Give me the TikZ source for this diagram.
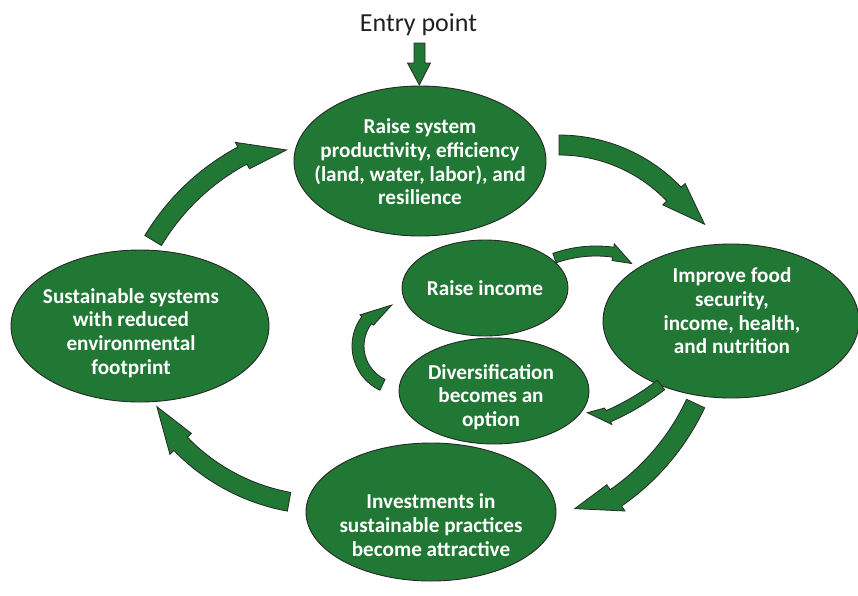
\documentclass[tikz,border=0pt]{standalone}
\usepackage{fontspec}
\setmainfont{Carlito}
\usetikzlibrary{shapes.geometric,calc}
\definecolor{leaf}{RGB}{33,119,52}
\definecolor{rim}{RGB}{40,40,40}
\definecolor{ink}{RGB}{35,31,32}
\newcommand{\cbarrow}[9]{%
  \pgfmathsetmacro\cbRo{#3+#6}\pgfmathsetmacro\cbRi{#3-#6}%
  \pgfmathsetmacro\cbHo{#3+#7}\pgfmathsetmacro\cbHi{#3-#7}%
  \draw[blockarrow] ($(#1,#2)+(#4:\cbRo)$) arc[start angle=#4, end angle=#5, radius=\cbRo]
    -- ($(#1,#2)+(#5:\cbHo)$) -- ($(#1,#2)+(#8:#9)$) -- ($(#1,#2)+(#5:\cbHi)$)
    -- ($(#1,#2)+(#5:\cbRi)$) arc[start angle=#5, end angle=#4, radius=\cbRi] -- cycle;}
\tikzset{
  blob/.style={ellipse, fill=leaf, draw=rim, line width=0.9pt, inner sep=0pt},
  blobtext/.style={text=white, font=\bfseries\fontsize{21.2}{23.7}\selectfont, align=center, inner sep=0pt},
  blockarrow/.style={fill=leaf, draw=rim, line width=0.8pt, line join=miter},
}
\begin{document}
\begin{tikzpicture}[x=1pt, y=-1pt]
\useasboundingbox (0,0) rectangle (858,595);
% ellipses
\node[blob, minimum width=252pt, minimum height=150pt] (top) at (420,161) {};
\node[blob, minimum width=256pt, minimum height=154pt] (right) at (731,321) {};
\node[blob, minimum width=258pt, minimum height=152pt] (left) at (140,326) {};
\node[blob, minimum width=250pt, minimum height=138pt] (bottom) at (431,512) {};
\node[blob, minimum width=166pt, minimum height=96pt] (income) at (485,288) {};
\node[blob, minimum width=190pt, minimum height=106pt] (divers) at (494,391) {};
% texts
\node[blobtext] (toptext) at (420,162) {Raise system\\productivity, efficiency\\(land, water, labor), and\\resilience};
\node[blobtext] (righttext) at (732,311) {Improve food\\security,\\income, health,\\and nutrition};
\node[blobtext] (lefttext) at (131,333) {Sustainable systems\\with reduced\\environmental\\footprint};
\node[blobtext] (bottomtext) at (431,525) {Investments in\\sustainable practices\\become attractive};
\node[blobtext] (incometext) at (485,288) {Raise income};
\node[blobtext] (diverstext) at (491,397) {Diversification\\becomes an\\option};
\node[anchor=base, font=\fontsize{26}{30}\selectfont, text=ink, inner sep=0pt] (entry) at (418.5,31.7) {Entry point};
% entry arrow
\draw[blockarrow] (414,43) -- (425,43) -- (425,63) -- (430.5,63) -- (419.3,85) -- (407.5,63) -- (414,63) -- cycle;
% outer cycle arrows
\cbarrow{559}{304}{159}{-90}{-43.7}{10}{15.5}{-28.7}{166}
\cbarrow{481}{303}{237}{25.1}{55.3}{10}{16}{65.5}{226}
\cbarrow{325}{304}{201}{100.3}{135.9}{9.5}{15}{148.6}{197}
\cbarrow{352}{360}{232}{211}{241.8}{9.7}{15}{252.7}{220}
% inner arrows
\cbarrow{596}{376}{125}{-109.4}{-82.1}{5}{8.4}{-72.4}{118}
\cbarrow{509}{189}{248}{52.2}{66.4}{6}{9}{70.7}{237}
\cbarrow{401}{346}{43}{115.5}{217.2}{6}{8.5}{257.2}{42}
\end{tikzpicture}
\end{document}
